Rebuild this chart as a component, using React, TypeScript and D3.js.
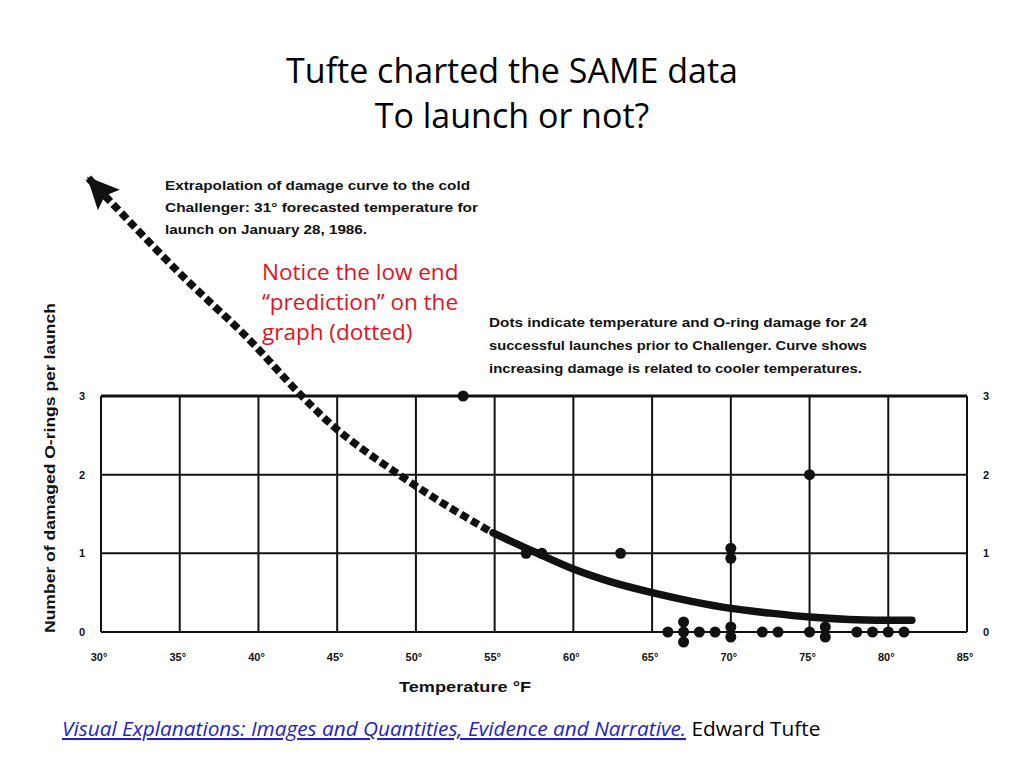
import React from 'react';
import * as d3 from 'd3';

// launches: temperature (°F) and number of damaged O-rings
const launchTemps = [53, 57, 58, 63, 66, 67, 67, 67, 68, 69, 70, 70, 70, 70, 72, 73, 75, 75, 76, 76, 78, 79, 80, 81];
const launchDamage = [3, 1, 1, 1, 0, 0, 0, 0, 0, 0, 1, 1, 0, 0, 0, 0, 0, 2, 0, 0, 0, 0, 0, 0];

// fitted damage curve
const curveTemps = [29.2, 30.8, 35.1, 39.3, 42.7, 45.2, 49, 52, 54.9, 57.5, 60, 62.5, 65, 67.5, 70, 72.5, 75, 77.5, 80, 81.5];
const curveDamage = [5.77, 5.43, 4.54, 3.74, 3.01, 2.54, 1.99, 1.6, 1.26, 1.02, 0.8, 0.63, 0.5, 0.39, 0.3, 0.24, 0.19, 0.16, 0.15, 0.15];
const extrapolateUntil = 54.9;

const xTicks = [30, 35, 40, 45, 50, 55, 60, 65, 70, 75, 80, 85];
const yTicks = [0, 1, 2, 3];

const noteTop = [
  'Extrapolation of damage curve to the cold',
  'Challenger: 31° forecasted temperature for',
  'launch on January 28, 1986.'
];
const noteRight = [
  'Dots indicate temperature and O-ring damage for 24',
  'successful launches prior to Challenger. Curve shows',
  'increasing damage is related to cooler temperatures.'
];
const redNote = ['Notice the low end', '“prediction” on the', 'graph (dotted)'];

const tufteFont = '"Liberation Sans", Arial, sans-serif';
const slideFont = '"Open Sans", "Noto Sans", sans-serif';

const App = () => {
  const x = d3.scaleLinear().domain([30, 85]).range([101, 967]);
  const y = d3.scaleLinear().domain([0, 3]).range([632, 396]);

  const pts = curveTemps.map((t, i) => [t, curveDamage[i]] as [number, number]);
  const line = d3.line<[number, number]>()
    .x(d => x(d[0]))
    .y(d => y(d[1]))
    .curve(d3.curveCatmullRom);
  const dashedPts = pts.filter(d => d[0] <= extrapolateUntil);
  const solidPts = pts.filter(d => d[0] >= extrapolateUntil);

  // stack duplicate dots vertically
  const groups = d3.group(launchTemps.map((t, i) => ({ t, d: launchDamage[i] })), p => `${p.t}-${p.d}`);
  const dots: { cx: number; cy: number }[] = [];
  groups.forEach(arr => {
    arr.forEach((p, i) => {
      dots.push({ cx: x(p.t), cy: y(p.d) + (i - (arr.length - 1) / 2) * 10 });
    });
  });

  return (
    <svg width={1024} height={768} style={{ position: 'absolute', left: 0, top: 0, background: '#fff' }}>
      <defs>
        <marker id="arrow" markerUnits="userSpaceOnUse" markerWidth={34} markerHeight={30}
          refX={30} refY={15} orient="auto-start-reverse" viewBox="0 0 34 30">
          <path d="M0,0 L32,15 L0,30 L6,15 Z" fill="#111" />
        </marker>
      </defs>

      {/* slide title */}
      <text x={512} y={83} textAnchor="middle" fontFamily={slideFont} fontSize={34} fill="#000">
        Tufte charted the SAME data
      </text>
      <text x={512} y={128} textAnchor="middle" fontFamily={slideFont} fontSize={34} fill="#000">
        To launch or not?
      </text>

      {/* grid */}
      <g stroke="#111" strokeWidth={2}>
        {xTicks.map(t => (
          <line key={t} x1={x(t)} x2={x(t)} y1={y(3)} y2={y(0)} />
        ))}
        {yTicks.map(t => (
          <line key={t} x1={x(30)} x2={x(85)} y1={y(t)} y2={y(t)} strokeWidth={t === 3 ? 3 : 2} />
        ))}
      </g>

      {/* tick labels */}
      <g fontFamily={tufteFont} fontWeight="bold" fontSize={11} fill="#111" textAnchor="middle">
        {xTicks.map(t => (
          <text key={t} x={x(t) - 2} y={661}>{t}°</text>
        ))}
        {yTicks.map(t => (
          <text key={'l' + t} x={82} y={y(t) + 4}>{t}</text>
        ))}
        {yTicks.map(t => (
          <text key={'r' + t} x={986} y={y(t) + 4}>{t}</text>
        ))}
      </g>

      {/* axis titles */}
      <text x={465} y={692} textAnchor="middle" fontFamily={tufteFont} fontWeight="bold" fontSize={15}
        textLength={132} lengthAdjust="spacingAndGlyphs" fill="#111">
        Temperature °F
      </text>
      <text transform="translate(55,468) rotate(-90)" textAnchor="middle" fontFamily={tufteFont}
        fontWeight="bold" fontSize={15} textLength={330} lengthAdjust="spacingAndGlyphs" fill="#111">
        Number of damaged O-rings per launch
      </text>

      {/* damage curve */}
      <path d={line(dashedPts) || ''} fill="none" stroke="#111" strokeWidth={7.5}
        strokeDasharray="8 4" markerStart="url(#arrow)" />
      <path d={line(solidPts) || ''} fill="none" stroke="#111" strokeWidth={7.5} strokeLinecap="round" />

      {/* launches */}
      <g fill="#111">
        {dots.map((d, i) => (
          <circle key={i} cx={d.cx} cy={d.cy} r={5.5} />
        ))}
      </g>

      {/* notes from the original figure */}
      <g fontFamily={tufteFont} fontWeight="bold" fontSize={13} fill="#111">
        {noteTop.map((s, i) => (
          <text key={i} x={165} y={190 + i * 22} textLength={[305, 313, 202][i]} lengthAdjust="spacingAndGlyphs">{s}</text>
        ))}
        {noteRight.map((s, i) => (
          <text key={i} x={489} y={327 + i * 23} textLength={[378, 378, 373][i]} lengthAdjust="spacingAndGlyphs">{s}</text>
        ))}
      </g>

      {/* slide annotation */}
      <g fontFamily={slideFont} fontSize={22.5} fill="#e0141e">
        {redNote.map((s, i) => (
          <text key={i} x={262} y={280 + i * 30}>{s}</text>
        ))}
      </g>

      {/* source */}
      <text x={62} y={736} fontFamily={slideFont} fontSize={20.8}>
        <tspan fill="#2323c8" fontStyle="italic" textDecoration="underline">
          Visual Explanations: Images and Quantities, Evidence and Narrative.
        </tspan>
        <tspan fill="#000"> Edward Tufte</tspan>
      </text>
    </svg>
  );
};

export default App;
